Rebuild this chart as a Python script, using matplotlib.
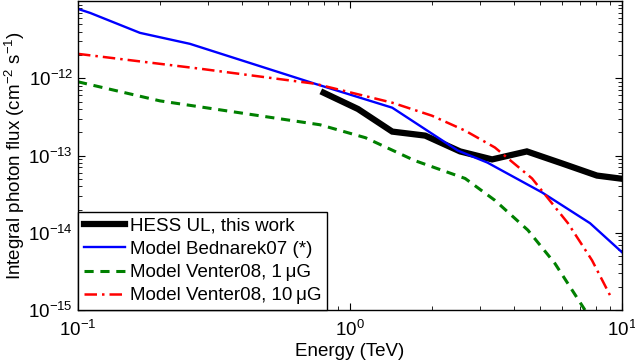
import matplotlib.pyplot as plt

plt.rcParams['font.family'] = ['Liberation Sans', 'DejaVu Sans']
plt.rcParams['mathtext.fontset'] = 'custom'
plt.rcParams['mathtext.rm'] = 'Liberation Sans'
plt.rcParams['mathtext.it'] = 'Liberation Sans:italic'

# HESS upper limits
hess_e = [0.80, 1.07, 1.43, 1.89, 2.54, 3.33, 4.47, 6.02, 8.09, 10.0]
hess_f = [6.5e-13, 4.0e-13, 2.04e-13, 1.81e-13, 1.13e-13, 8.9e-14, 1.13e-13, 7.9e-14, 5.5e-14, 5.0e-14]

# Bednarek07 model
bed_e = [0.10, 0.111, 0.169, 0.258, 0.743, 1.43, 2.49, 3.2, 5.08, 7.63, 10.0]
bed_f = [7.9e-12, 7.0e-12, 3.87e-12, 2.79e-12, 8.5e-13, 4.16e-13, 1.16e-13, 8.1e-14, 3.33e-14, 1.33e-14, 5.6e-15]

# Venter08, 1 muG
v1_e = [0.10, 0.20, 0.776, 1.14, 1.73, 2.65, 3.41, 4.51, 5.67, 7.31]
v1_f = [9.0e-13, 5.1e-13, 2.5e-13, 1.7e-13, 8.6e-14, 5.05e-14, 2.63e-14, 1.08e-14, 4.0e-15, 1.0e-15]

# Venter08, 10 muG
v10_e = [0.10, 0.281, 0.743, 1.43, 2.0, 2.65, 3.41, 4.67, 6.33, 7.76, 9.03]
v10_f = [2.07e-12, 1.33e-12, 8.5e-13, 4.83e-13, 3.28e-13, 2.1e-13, 1.27e-13, 5.05e-14, 1.33e-14, 4.4e-15, 1.56e-15]

fig = plt.figure(figsize=(6.35, 3.62), dpi=100)
ax = fig.add_axes([0.1228, 0.1436, 0.8567, 0.8536])

ax.plot(hess_e, hess_f, color='black', lw=4.5, solid_joinstyle='miter', label='HESS UL, this work')
ax.plot(bed_e, bed_f, color='#0000ff', lw=1.7, label='Model Bednarek07 (*)')
ax.plot(v1_e, v1_f, color='#008000', lw=2.2, ls=(0, (3, 2.2)), label='Model Venter08, 1\u2009\u03bcG')
ax.plot(v10_e, v10_f, color='#ff0000', lw=1.8, ls=(0, (5, 2, 1, 2)), label='Model Venter08, 10\u2009\u03bcG')

ax.set_xscale('log')
ax.set_yscale('log')
ax.set_xlim(0.1, 10)
ax.set_ylim(1e-15, 1e-11)
ax.set_xlabel('Energy (TeV)', fontsize=13.5, labelpad=2)
ax.set_ylabel('Integral photon flux (cm$^{-2}$ s$^{-1}$)', fontsize=13.5, labelpad=1)
ax.tick_params(which='both', direction='in', top=True, right=True, labelsize=13.5)
ax.tick_params(axis='x', which='major', pad=7)
ax.tick_params(which='major', length=5)
ax.tick_params(which='minor', length=3)
ax.set_yticks([1e-15, 1e-14, 1e-13, 1e-12])
for s in ax.spines.values():
    s.set_linewidth(1.0)

leg = ax.legend(loc='lower left', borderaxespad=0, fontsize=13.5, fancybox=False,
                framealpha=1, edgecolor='black', handlelength=2.2, handletextpad=0.25,
                labelspacing=0.33, borderpad=0.3)
leg.get_frame().set_linewidth(1.0)

fig.savefig('out.png', dpi=100)
